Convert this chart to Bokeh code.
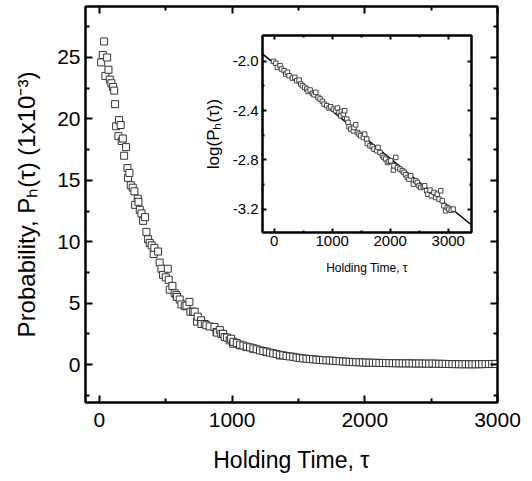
from bokeh.plotting import figure
from bokeh.models import (Range1d, FixedTicker, LinearAxis,
                          PrintfTickFormatter, CustomJSTickFormatter)
from bokeh.layouts import column
from bokeh.embed import file_html
from bokeh.resources import INLINE

FONT = "Liberation Sans"

# ---------------- data ----------------
main_x = [13, 25, 35, 45, 58, 68, 78, 90, 103, 111, 118, 126, 143, 148, 160, 168, 176, 186,
          201, 211, 216, 226, 236, 251, 264, 269, 289, 294, 304, 317, 329, 344, 354, 367, 379,
          394, 409, 414, 442, 454, 467, 480, 500, 515, 522, 530, 550, 567, 580, 585, 605, 618,
          643, 656, 678, 686, 706, 718, 736, 741, 766, 769, 794, 806, 831, 867, 882, 887, 907,
          919, 932, 944, 962, 982, 992, 1007, 1057, 1108, 1158, 1258, 1359,
          1010, 1035, 1060, 1085, 1110, 1135, 1160, 1185, 1210, 1235, 1260, 1285, 1310, 1335,
          1360, 1385, 1410, 1435, 1460, 1485, 1510, 1535, 1560, 1585, 1610, 1635, 1660, 1685,
          1710, 1735, 1760, 1785, 1810, 1835, 1860, 1885, 1910, 1935, 1960, 1985, 2010, 2035,
          2060, 2085, 2110, 2135, 2160, 2185, 2210, 2235, 2260, 2285, 2310, 2335, 2360, 2385,
          2410, 2435, 2460, 2485, 2510, 2535, 2560, 2585, 2610, 2635, 2660, 2685, 2710, 2735,
          2760, 2785, 2810, 2835, 2860, 2885, 2910, 2935, 2960, 2985]
main_y = [24.6, 25.2, 26.3, 23.5, 25.0, 24.0, 23.2, 22.9, 22.6, 22.3, 21.2, 19.4, 18.6, 19.9,
          19.5, 18.2, 18.4, 17.0, 17.7, 16.0, 15.2, 15.6, 14.6, 14.4, 14.1, 13.0, 13.5, 13.25,
          12.6, 12.3, 11.7, 12.0, 10.8, 10.2, 9.9, 9.7, 9.0, 9.5, 9.2, 8.3, 7.8, 7.3, 7.1, 7.8,
          6.9, 6.1, 6.4, 5.8, 5.65, 5.5, 5.3, 4.9, 4.75, 4.8, 5.1, 4.3, 4.3, 4.3, 3.5, 3.9, 3.6,
          3.3, 3.3, 3.2, 3.1, 3.05, 2.65, 2.6, 2.8, 2.5, 2.5, 2.24, 2.2, 1.97, 2.1, 1.7, 1.56,
          1.42, 1.29, 1.01, 0.74,
          1.85, 1.75, 1.62, 1.55, 1.46, 1.40, 1.32, 1.24, 1.15, 1.10, 1.05, 0.97, 0.91, 0.86,
          0.80, 0.75, 0.70, 0.66, 0.63, 0.57, 0.54, 0.50, 0.47, 0.45, 0.43, 0.40, 0.38, 0.36,
          0.34, 0.33, 0.31, 0.29, 0.27, 0.25, 0.23, 0.22, 0.20, 0.19, 0.18, 0.17, 0.16, 0.15,
          0.15, 0.14, 0.13, 0.13, 0.12, 0.12, 0.11, 0.11, 0.10, 0.10, 0.09, 0.10, 0.09, 0.08,
          0.09, 0.08, 0.08, 0.07, 0.08, 0.07, 0.06, 0.06, 0.05, 0.04, 0.04, 0.03, 0.03, 0.02,
          0.03, 0.02, 0.02, 0.02, 0.03, 0.03, 0.04, 0.04, 0.05, 0.05]

inset_x = [-11, 29, 57, 103, 126, 172, 201, 229, 258, 316, 356, 390, 430, 459, 488, 528, 562,
           585, 620, 660, 688, 717, 757, 792, 832, 861, 906, 947, 975, 1021, 1061, 1090, 1119,
           1147, 1159, 1193, 1216, 1251, 1274, 1291, 1320, 1365, 1377, 1406, 1434, 1463, 1492,
           1538, 1560, 1595, 1606, 1652, 1692, 1721, 1767, 1790, 1824, 1865, 1893, 1922, 1951,
           1979, 2008, 2054, 2065, 2094, 2123, 2169, 2209, 2237, 2266, 2295, 2323, 2352, 2398,
           2438, 2467, 2496, 2524, 2570, 2593, 2628, 2650, 2685, 2708, 2754, 2782, 2811, 2840,
           2869, 2897, 2926, 2955, 2983, 3012, 3052, 3087]
inset_y = [-2.000, -2.016, -2.049, -2.035, -2.062, -2.076, -2.103, -2.089, -2.117, -2.136,
           -2.130, -2.157, -2.152, -2.184, -2.198, -2.211, -2.225, -2.244, -2.233, -2.260,
           -2.271, -2.252, -2.293, -2.306, -2.325, -2.347, -2.360, -2.379, -2.369, -2.388,
           -2.401, -2.379, -2.415, -2.442, -2.407, -2.428, -2.401, -2.469, -2.496, -2.531,
           -2.550, -2.564, -2.537, -2.515, -2.577, -2.591, -2.604, -2.618, -2.591, -2.631,
           -2.667, -2.686, -2.694, -2.713, -2.726, -2.699, -2.740, -2.767, -2.780, -2.794,
           -2.821, -2.813, -2.808, -2.883, -2.848, -2.780, -2.862, -2.875, -2.889, -2.902,
           -2.921, -2.943, -2.957, -2.930, -2.997, -2.970, -2.984, -3.011, -3.024, -3.019,
           -3.011, -3.051, -3.079, -3.046, -3.092, -3.065, -3.106, -3.079, -3.119, -3.051,
           -3.133, -3.173, -3.214, -3.187, -3.200, -3.209, -3.200]

fit_intercept = -2.017
fit_slope = -3.86e-4
fit_x = [-200, 3400]

main_xticks = [0, 1000, 2000, 3000]
main_xminor = [500, 1500, 2500]
main_yticks = [0, 5, 10, 15, 20, 25]
main_yminor = [-2.5, 2.5, 7.5, 12.5, 17.5, 22.5, 27.5]
inset_xticks = [0, 1000, 2000, 3000]
inset_xminor = [500, 1500, 2500]
inset_yticks = [-3.2, -2.8, -2.4, -2.0]
inset_yminor = [-3.0, -2.6, -2.2]

main_xlabel = "Holding Time, τ"
main_ylabel = "Probability, Pₕ(τ) (1x10⁻³)"
inset_xlabel = "Holding Time, τ"
inset_ylabel = "log(Pₕ(τ))"


def style_axis(ax, major_in, minor_in, lw, size, show_labels=True, standoff=5):
    ax.axis_line_color = "black"
    ax.axis_line_width = lw
    ax.major_tick_in = major_in
    ax.major_tick_out = 0
    ax.minor_tick_in = minor_in
    ax.minor_tick_out = 0
    ax.major_tick_line_width = lw
    ax.minor_tick_line_width = lw
    ax.major_tick_line_color = "black"
    ax.minor_tick_line_color = "black"
    ax.major_label_text_font = FONT
    ax.major_label_text_font_size = f"{size}px"
    ax.major_label_text_color = "black"
    ax.major_label_standoff = standoff
    if not show_labels:
        ax.formatter = CustomJSTickFormatter(code="return ''")
        ax.major_label_standoff = 0


def style_label(ax, text, size, standoff):
    ax.axis_label = text
    ax.axis_label_text_font = FONT
    ax.axis_label_text_font_size = f"{size}px"
    ax.axis_label_text_font_style = "normal"
    ax.axis_label_text_color = "black"
    ax.axis_label_standoff = standoff


# ---------------- main plot ----------------
W, H = 528, 478
LB, RB = 85, W - 497          # frame: x 85..497, y 6..402
p = figure(width=W, height=H, x_range=Range1d(-105, 3000), y_range=Range1d(-3.09, 29.15),
           output_backend="svg", toolbar_location=None,
           min_border_left=LB, min_border_right=RB, min_border_top=6,
           min_border_bottom=H - 402)
p.grid.visible = False
p.outline_line_color = "black"
p.outline_line_width = 2
p.background_fill_color = "white"
p.border_fill_color = "white"

p.xaxis.ticker = FixedTicker(ticks=main_xticks, minor_ticks=main_xminor)
p.yaxis.ticker = FixedTicker(ticks=main_yticks, minor_ticks=main_yminor)
style_axis(p.xaxis[0], 7, 4, 2, 21, standoff=10)
style_axis(p.yaxis[0], 7, 4, 2, 21, standoff=5)
style_label(p.xaxis[0], main_xlabel, 23, 17)
style_label(p.yaxis[0], main_ylabel, 24, 14)

top_ax = LinearAxis(ticker=FixedTicker(ticks=main_xticks, minor_ticks=main_xminor))
style_axis(top_ax, 7, 4, 2, 1, show_labels=False)
p.add_layout(top_ax, "above")
right_ax = LinearAxis(ticker=FixedTicker(ticks=main_yticks, minor_ticks=main_yminor))
style_axis(right_ax, 7, 4, 2, 1, show_labels=False)
p.add_layout(right_ax, "right")

p.scatter(main_x, main_y, marker="square", size=7, fill_color="white",
          line_color="#333333", line_width=1)

# ---------------- inset ----------------
# the column aligns plot borders, so the inset uses the same side borders
# as the main plot; its frame spans x 262..471, y 35..232
IFW = 209
IW, IH = LB + IFW + RB, 252
ins = figure(width=IW, height=IH, x_range=Range1d(-200, 3400), y_range=Range1d(-3.39, -1.79),
             output_backend="svg", toolbar_location=None,
             min_border_left=LB, min_border_right=RB, min_border_top=7, min_border_bottom=48)
ins.grid.visible = False
ins.outline_line_color = "black"
ins.outline_line_width = 2
ins.background_fill_color = "white"
ins.border_fill_alpha = 0
ins.xaxis.ticker = FixedTicker(ticks=inset_xticks, minor_ticks=inset_xminor)
ins.yaxis.ticker = FixedTicker(ticks=inset_yticks, minor_ticks=inset_yminor)
style_axis(ins.xaxis[0], 4, 2, 2, 15, standoff=3)
style_axis(ins.yaxis[0], 4, 2, 2, 15, standoff=4)
ins.yaxis.formatter = PrintfTickFormatter(format="%.1f")
style_label(ins.xaxis[0], inset_xlabel, 12, 12)
style_label(ins.yaxis[0], inset_ylabel, 17, 7)
itop = LinearAxis(ticker=FixedTicker(ticks=inset_xticks, minor_ticks=inset_xminor))
style_axis(itop, 4, 2, 2, 1, show_labels=False)
ins.add_layout(itop, "above")
iright = LinearAxis(ticker=FixedTicker(ticks=inset_yticks, minor_ticks=inset_yminor))
style_axis(iright, 4, 2, 2, 1, show_labels=False)
ins.add_layout(iright, "right")

fit_y = [fit_intercept + fit_slope * v for v in fit_x]
ins.line(fit_x, fit_y, line_color="black", line_width=1.5)
ins.scatter(inset_x, inset_y, marker="square", size=4.5, fill_color="white",
            line_color="#333333", line_width=0.9)

# place the inset over the main plot (inset frame at page x=262, y=35)
ins.margin = (28 - H, 0, 0, 262 - LB)

layout = column(p, ins)
open("out.html", "w").write(file_html(layout, INLINE))
